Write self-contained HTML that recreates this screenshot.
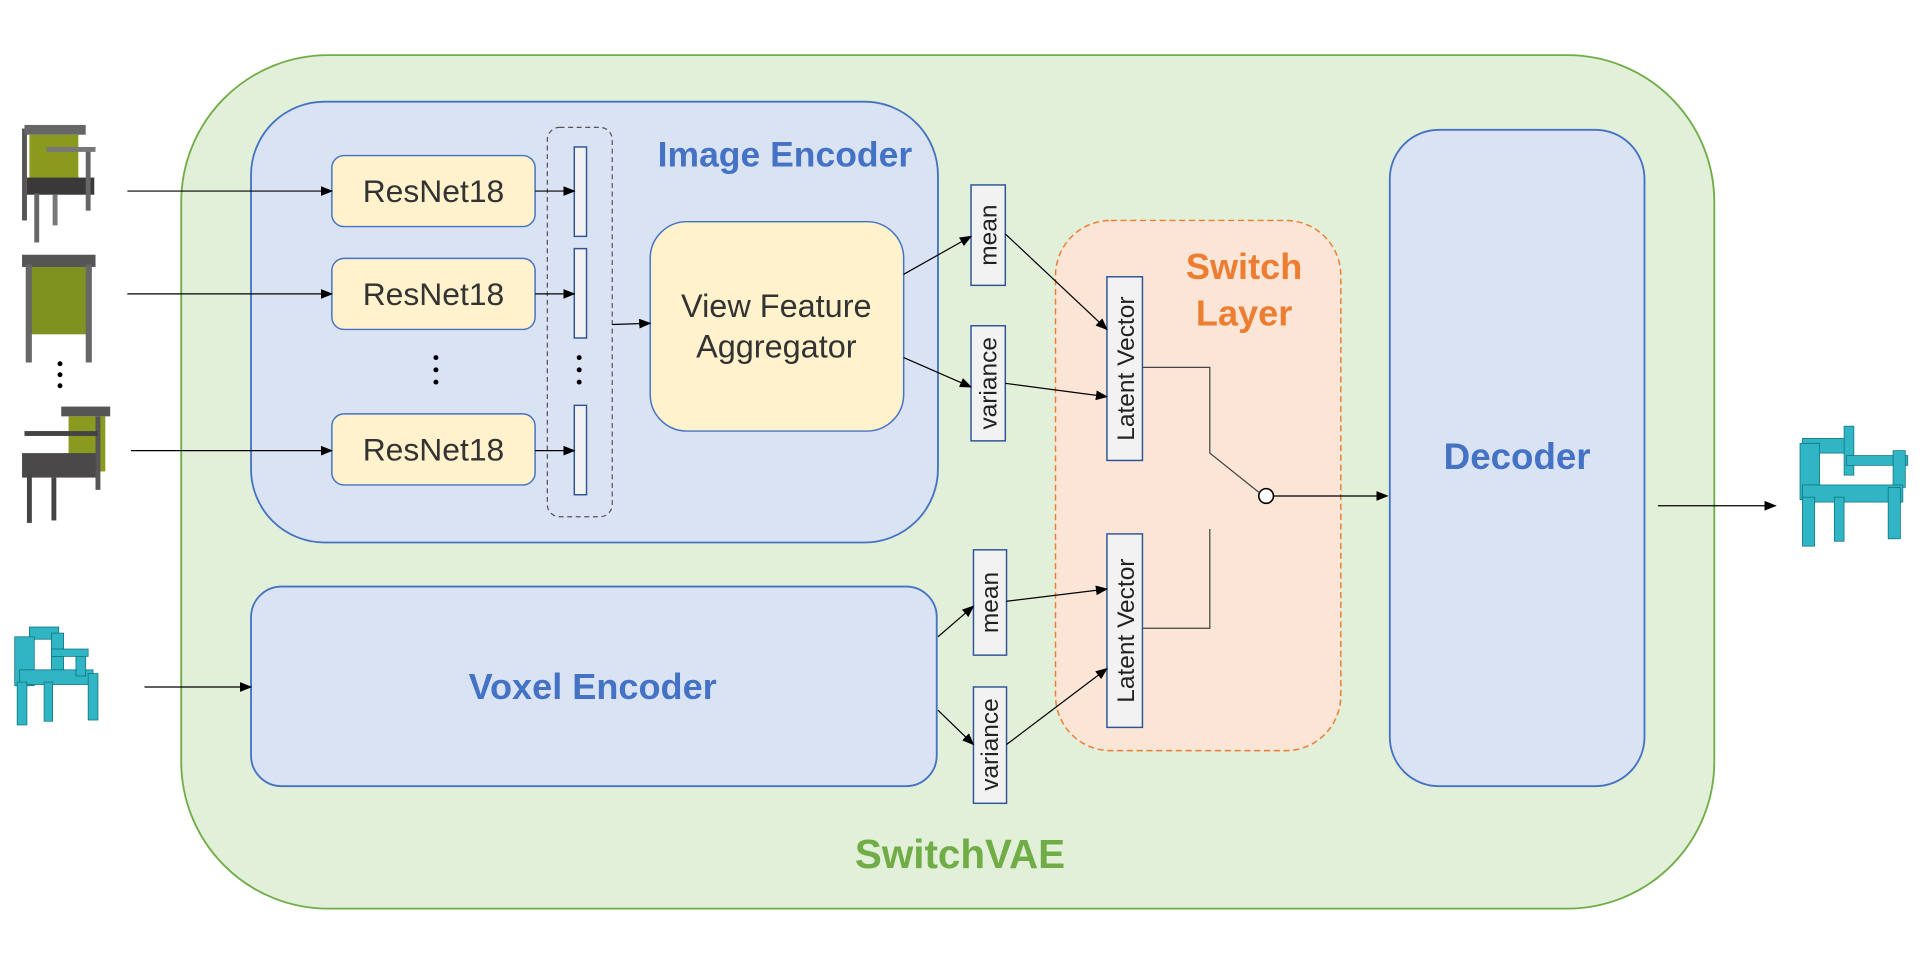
<!DOCTYPE html>
<html><head><meta charset="utf-8"><style>html,body{margin:0;padding:0;background:#fff}svg{display:block}</style></head><body>
<svg width="1920" height="976" viewBox="0 0 1568 797" xmlns="http://www.w3.org/2000/svg" font-family="Liberation Sans, Arial, sans-serif">
<defs><marker id="a" markerWidth="10" markerHeight="8" refX="9" refY="4" orient="auto" markerUnits="userSpaceOnUse"><path d="M0,0 L10,4 L0,8z" fill="#000"/></marker></defs>
<rect x="148" y="45" width="1252" height="697" rx="120" fill="#e2efd9" stroke="#70ad47" stroke-width="1.5"/>
<rect x="205" y="83" width="561" height="360" rx="60" fill="#dae3f3" stroke="#4472c4" stroke-width="1.5"/>
<text x="641" y="136" font-size="29" font-weight="bold" fill="#4472c4" text-anchor="middle">Image Encoder</text>
<g fill="#fff2cc" stroke="#4472c4" stroke-width="1.2">
<rect x="271" y="127" width="166" height="58" rx="10"/><rect x="271" y="211" width="166" height="58" rx="10"/><rect x="271" y="338" width="166" height="58" rx="10"/>
<rect x="531" y="181" width="207" height="171" rx="30"/></g>
<g font-size="26" fill="#333" text-anchor="middle"><text x="354" y="165">ResNet18</text><text x="354" y="249">ResNet18</text><text x="354" y="376">ResNet18</text></g>
<g font-size="26.5" fill="#333" text-anchor="middle"><text x="634" y="259">View Feature</text><text x="634" y="292">Aggregator</text></g>
<rect x="447" y="104" width="53" height="318" rx="10" fill="none" stroke="#555" stroke-dasharray="4,3"/>
<g fill="#f2f2f2" stroke="#2f5597" stroke-width="1.2"><rect x="469" y="120" width="10" height="73"/><rect x="469" y="203" width="10" height="73"/><rect x="469" y="331" width="10" height="73"/></g>
<g fill="#000"><circle cx="356" cy="292" r="2"/><circle cx="356" cy="302" r="2"/><circle cx="356" cy="312" r="2"/>
<circle cx="473" cy="292" r="2"/><circle cx="473" cy="302" r="2"/><circle cx="473" cy="312" r="2"/>
<circle cx="49" cy="297" r="2"/><circle cx="49" cy="306" r="2"/><circle cx="49" cy="315" r="2"/></g>
<rect x="205" y="479" width="560" height="163" rx="25" fill="#dae3f3" stroke="#4472c4" stroke-width="1.5"/>
<text x="484" y="571" font-size="29.5" font-weight="bold" fill="#4472c4" text-anchor="middle">Voxel Encoder</text>
<rect x="862" y="180" width="233" height="433" rx="45" fill="#fbe5d6" stroke="#ed7d31" stroke-width="1.2" stroke-dasharray="5,3"/>
<text x="1016" y="228" font-size="29.5" font-weight="bold" fill="#ed7d31" text-anchor="middle">Switch</text>
<text x="1016" y="266" font-size="29.5" font-weight="bold" fill="#ed7d31" text-anchor="middle">Layer</text>
<rect x="1135" y="106" width="208" height="536" rx="40" fill="#dae3f3" stroke="#4472c4" stroke-width="1.5"/>
<text x="1239" y="383" font-size="30" font-weight="bold" fill="#4472c4" text-anchor="middle">Decoder</text>
<text x="784" y="709" font-size="33" font-weight="bold" fill="#70ad47" text-anchor="middle">SwitchVAE</text>
<g fill="#f2f2f2" stroke="#2f5597" stroke-width="1.2">
<rect x="793" y="151" width="28" height="82"/><rect x="793" y="266" width="28" height="94"/>
<rect x="795" y="449" width="27" height="86"/><rect x="795" y="561" width="27" height="95"/>
<rect x="904" y="226" width="29" height="150"/><rect x="904" y="436" width="29" height="158"/></g>
<g font-size="20" fill="#222" text-anchor="middle">
<text transform="translate(814,192) rotate(-90)">mean</text><text transform="translate(814,313) rotate(-90)">variance</text>
<text transform="translate(815,492) rotate(-90)">mean</text><text transform="translate(815,608) rotate(-90)">variance</text>
<text transform="translate(926,301) rotate(-90)">Latent Vector</text><text transform="translate(926,515) rotate(-90)">Latent Vector</text></g>
<g stroke="#000" stroke-width="1" fill="none" marker-end="url(#a)">
<line x1="104" y1="156" x2="271" y2="156"/><line x1="104" y1="240" x2="271" y2="240"/><line x1="107" y1="368" x2="271" y2="368"/><line x1="118" y1="561" x2="205" y2="561"/>
<line x1="437" y1="156" x2="469" y2="156"/><line x1="437" y1="240" x2="469" y2="240"/><line x1="437" y1="368" x2="469" y2="368"/>
<line x1="500" y1="265" x2="531" y2="264"/>
<line x1="738" y1="224" x2="793" y2="193"/><line x1="738" y1="292" x2="793" y2="316"/>
<line x1="766" y1="520" x2="795" y2="495"/><line x1="766" y1="580" x2="795" y2="608"/>
<line x1="821" y1="191" x2="904" y2="269"/><line x1="821" y1="313" x2="904" y2="324"/>
<line x1="822" y1="491" x2="904" y2="481"/><line x1="822" y1="608" x2="904" y2="546"/>
<line x1="1040" y1="405" x2="1133" y2="405"/><line x1="1354" y1="413" x2="1450" y2="413"/></g>
<g stroke="#444" stroke-width="1" fill="none"><polyline points="933,300 988,300 988,370 1028,402"/><polyline points="988,432 988,513 933,513"/></g>
<circle cx="1034" cy="405" r="6" fill="#fff" stroke="#000" stroke-width="1.3"/>
<g>
<g transform="translate(18,100)"><rect x="0" y="5" width="4" height="75" fill="#555"/><rect x="2" y="2" width="50" height="8" fill="#666"/><rect x="6" y="10" width="40" height="40" fill="#8a9a1e"/><rect x="4" y="45" width="55" height="14" fill="#3a3838"/><rect x="10" y="58" width="4" height="40" fill="#666"/><rect x="52" y="22" width="4" height="50" fill="#666"/><rect x="25" y="59" width="4" height="25" fill="#777"/><rect x="20" y="20" width="40" height="4" fill="#777"/></g>
<g transform="translate(18,208)"><rect x="0" y="0" width="60" height="10" fill="#555"/><rect x="6" y="10" width="48" height="55" fill="#7f9220"/><rect x="3" y="8" width="5" height="80" fill="#666"/><rect x="52" y="8" width="5" height="80" fill="#666"/></g>
<g transform="translate(18,332)"><rect x="32" y="0" width="40" height="8" fill="#555"/><rect x="38" y="8" width="30" height="45" fill="#8a9a1e"/><rect x="0" y="38" width="60" height="20" fill="#4a4848"/><rect x="4" y="55" width="4" height="40" fill="#444"/><rect x="24" y="58" width="4" height="35" fill="#444"/><rect x="60" y="8" width="4" height="60" fill="#555"/><rect x="2" y="20" width="60" height="4" fill="#444"/></g>
<g transform="translate(12,512)" fill="#2fb5c4" stroke="#0f6f7a" stroke-width="0.6"><rect x="12" y="0" width="24" height="10"/><rect x="0" y="8" width="16" height="40"/><rect x="30" y="5" width="10" height="30"/><rect x="4" y="35" width="60" height="12"/><rect x="50" y="20" width="8" height="20"/><rect x="30" y="18" width="30" height="6"/><rect x="2" y="45" width="8" height="35"/><rect x="24" y="45" width="7" height="32"/><rect x="60" y="38" width="8" height="38"/></g>
<g transform="translate(1468,348)" fill="#2fb5c4" stroke="#0f6f7a" stroke-width="0.6"><rect x="4" y="10" width="40" height="12"/><rect x="2" y="14" width="16" height="46"/><rect x="38" y="0" width="8" height="40"/><rect x="40" y="24" width="50" height="8"/><rect x="78" y="20" width="10" height="30"/><rect x="4" y="48" width="82" height="14"/><rect x="4" y="58" width="10" height="40"/><rect x="30" y="58" width="8" height="36"/><rect x="74" y="50" width="10" height="42"/></g>
</g>
</svg>
</body></html>
